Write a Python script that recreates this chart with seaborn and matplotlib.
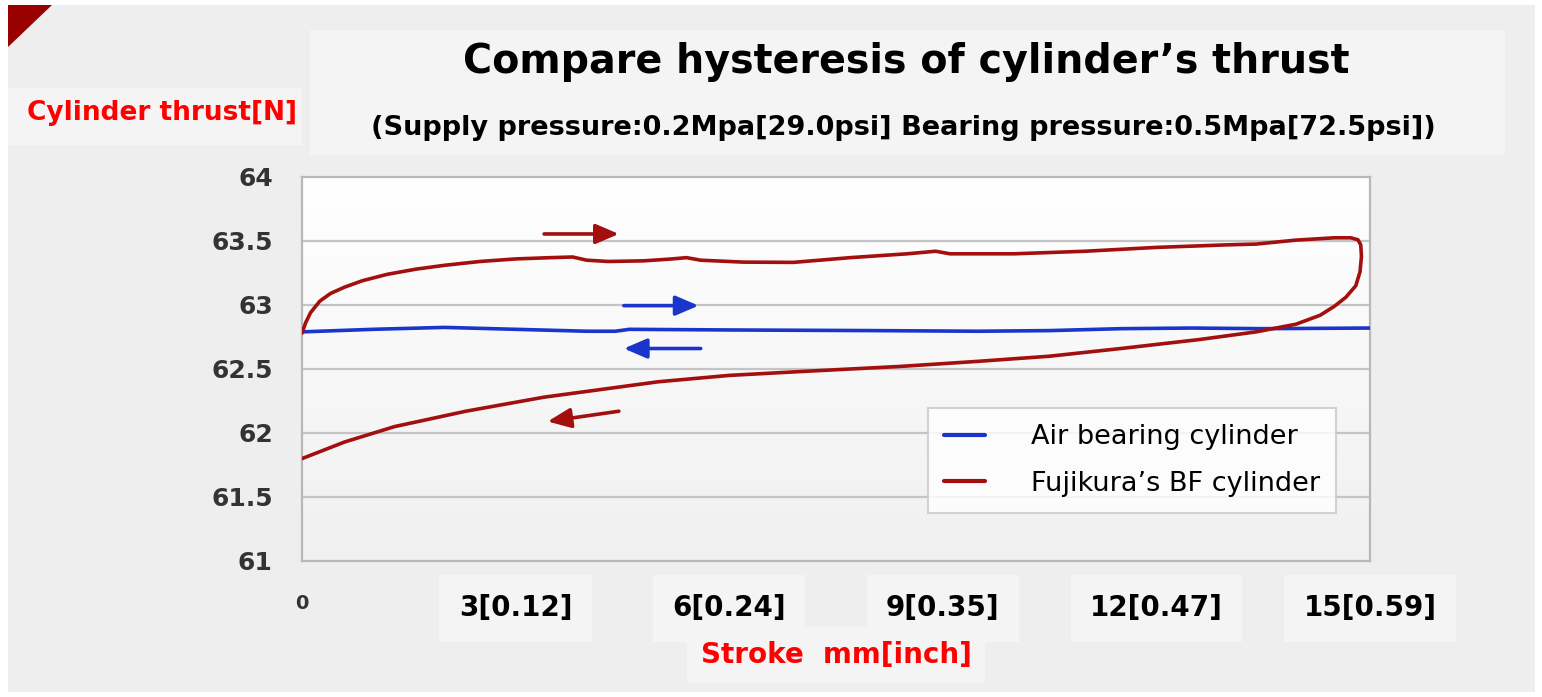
import numpy as np
import pandas as pd
import matplotlib.pyplot as plt
import seaborn as sns
from matplotlib.patches import Rectangle, Polygon
from matplotlib.colors import LinearSegmentedColormap

# Ход штока, мм — цилиндр на воздушном подшипнике
air_x = [0, 1, 2, 3, 4, 4.4, 4.6, 6, 8, 9.5, 10.5, 11.5, 12.5, 13.5, 15]
air_y = [62.79, 62.81, 62.825, 62.81, 62.795, 62.795, 62.81, 62.805, 62.80,
         62.795, 62.80, 62.815, 62.82, 62.815, 62.82]

# Петля гистерезиса BF-цилиндра (прямой ход, затем обратный)
bf_x = [0, 0.05, 0.12, 0.25, 0.4, 0.6, 0.85, 1.2, 1.6, 2.0, 2.5, 3.0, 3.5, 3.8,
        4.0, 4.3, 4.8, 5.2, 5.4, 5.6, 6.2, 6.9, 7.7, 8.5, 8.9, 9.1, 10.0, 11.0,
        12.0, 13.0, 13.4, 13.96, 14.5, 14.73, 14.83, 14.87, 14.88, 14.86, 14.8,
        14.66, 14.5, 14.3, 13.96, 13.4, 12.6, 11.5, 10.5, 9.5, 8.4, 7.0, 6.0,
        5.0, 4.6, 3.4, 2.3, 1.3, 0.6, 0]
bf_y = [62.78, 62.86, 62.94, 63.03, 63.09, 63.14, 63.19, 63.24, 63.28, 63.31,
        63.34, 63.36, 63.37, 63.375, 63.35, 63.34, 63.345, 63.36, 63.37, 63.35,
        63.335, 63.333, 63.37, 63.40, 63.42, 63.40, 63.40, 63.42, 63.45, 63.47,
        63.476, 63.507, 63.525, 63.525, 63.51, 63.47, 63.38, 63.26, 63.15, 63.06,
        62.99, 62.92, 62.85, 62.79, 62.73, 62.66, 62.60, 62.56, 62.52, 62.48,
        62.45, 62.40, 62.37, 62.28, 62.17, 62.05, 61.93, 61.80]

series_names = ['Air bearing cylinder', 'Fujikura\u2019s BF cylinder']
colors = {'Air bearing cylinder': '#1a35cc', 'Fujikura\u2019s BF cylinder': '#a30f0f'}

x_ticks = [0, 3, 6, 9, 12, 15]
x_labels = ['0', '3[0.12]', '6[0.24]', '9[0.35]', '12[0.47]', '15[0.59]']
y_ticks = [61, 61.5, 62, 62.5, 63, 63.5, 64]
y_labels = ['61', '61.5', '62', '62.5', '63', '63.5', '64']

df = pd.concat([
    pd.DataFrame({'stroke': air_x, 'thrust': air_y, 'series': series_names[0]}),
    pd.DataFrame({'stroke': bf_x, 'thrust': bf_y, 'series': series_names[1]}),
], ignore_index=True)

sns.set_theme(style='white')
plt.rcParams['font.family'] = ['DejaVu Sans']

W, H = 1542, 697
fig = plt.figure(figsize=(W / 100, H / 100), dpi=100, facecolor='white')

def fx(px):
    return px / W

def fy(py):
    return 1 - py / H

# фон и декоративные блоки
fig.patches.append(Rectangle((fx(8), fy(692)), fx(1535) - fx(8), fy(5) - fy(692),
                             transform=fig.transFigure, fc='#eeeeee', ec='none', zorder=-10))
fig.patches.append(Polygon([(fx(8), fy(5)), (fx(52), fy(5)), (fx(8), fy(47))],
                           closed=True, transform=fig.transFigure, fc='#990000', ec='none', zorder=-5))
for (x0, y0, x1, y1) in [(310, 30, 1505, 155), (8, 88, 302, 145)]:
    fig.patches.append(Rectangle((fx(x0), fy(y1)), fx(x1) - fx(x0), fy(y0) - fy(y1),
                                 transform=fig.transFigure, fc='#f4f4f4', ec='none', zorder=-5))

ax = fig.add_axes([fx(302), fy(561), fx(1370) - fx(302), fy(177) - fy(561)])
ax.set_facecolor('white')

grad = LinearSegmentedColormap.from_list('bg', ['#ffffff', '#f0f0f0'])
ax.imshow(np.linspace(0, 1, 100).reshape(-1, 1), cmap=grad, aspect='auto',
          extent=[0, 15, 61, 64], origin='upper', zorder=0)

for yv in y_ticks[1:-1]:
    ax.axhline(yv, color='#c4c4c4', lw=1.6, zorder=1)

sns.lineplot(data=df, x='stroke', y='thrust', hue='series', palette=colors,
             sort=False, estimator=None, lw=2.6, ax=ax, zorder=3)
for ln in ax.get_lines():
    ln.set_solid_joinstyle('round')
    ln.set_solid_capstyle('round')

ax.set_xlim(0, 15)
ax.set_ylim(61, 64)
ax.set_xlabel('')
ax.set_ylabel('')

for s in ax.spines.values():
    s.set_color('#b8b8b8')
    s.set_linewidth(1.6)

ax.set_yticks(y_ticks)
ax.set_yticklabels(y_labels, fontsize=18, fontweight='bold', color='#333333')
ax.tick_params(axis='y', length=0, pad=21)

ax.set_xticks(x_ticks)
ax.set_xticklabels(x_labels, fontsize=20, fontweight='bold', color='black')
ax.tick_params(axis='x', direction='in', length=7, width=1.5, color='#b8b8b8', pad=24)
for i, lab in enumerate(ax.get_xticklabels()):
    if i == 0:
        lab.set_fontsize(14)
        lab.set_color('#333333')
    else:
        lab.set_bbox(dict(boxstyle='square,pad=0.7', fc='#f4f4f4', ec='none'))

# стрелки направления хода
arrows = [((3.4, 63.555), (4.45, 63.555), colors[series_names[1]]),
          ((4.52, 62.995), (5.57, 62.995), colors[series_names[0]]),
          ((5.6, 62.66), (4.52, 62.66), colors[series_names[0]]),
          ((4.45, 62.17), (3.45, 62.09), colors[series_names[1]])]
for start, end, c in arrows:
    ax.annotate('', xy=end, xytext=start,
                arrowprops=dict(arrowstyle='-|>,head_length=0.7,head_width=0.3',
                                color=c, lw=2.6, mutation_scale=20, shrinkA=0, shrinkB=0),
                zorder=4)

handles, labels = ax.get_legend_handles_labels()
leg = ax.legend(handles, labels, loc='upper left',
                bbox_to_anchor=(fx(928), fy(408)), bbox_transform=fig.transFigure,
                borderaxespad=0, frameon=True, fancybox=False, fontsize=19.5,
                handlelength=1.5, handletextpad=1.7, borderpad=0.6, labelspacing=0.75)
leg.get_frame().set_edgecolor('#c8c8c8')
leg.get_frame().set_linewidth(1.5)
for t in leg.get_texts():
    t.set_color('black')
for ln in leg.get_lines():
    ln.set_linewidth(3)

fig.text(fx(906), fy(62), 'Compare hysteresis of cylinder\u2019s thrust',
         ha='center', va='center', fontsize=28.5, fontweight='bold', color='black')
fig.text(fx(903), fy(128), '(Supply pressure:0.2Mpa[29.0psi] Bearing pressure:0.5Mpa[72.5psi])',
         ha='center', va='center', fontsize=19.5, fontweight='bold', color='black')
fig.text(fx(162), fy(113), 'Cylinder thrust[N]', ha='center', va='center',
         fontsize=19, fontweight='bold', color='#ff0000')
fig.text(fx(836), fy(655), 'Stroke  mm[inch]', ha='center', va='center',
         fontsize=20, fontweight='bold', color='#ff0000',
         bbox=dict(boxstyle='square,pad=0.5', fc='#f4f4f4', ec='none'))

fig.savefig('out.png', dpi=100, facecolor=fig.get_facecolor())
